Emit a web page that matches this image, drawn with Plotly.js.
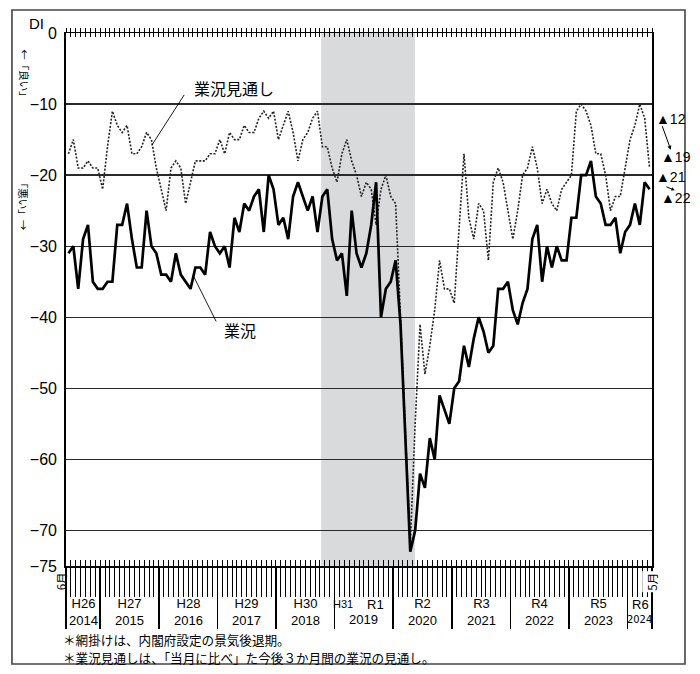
<!DOCTYPE html>
<html><head><meta charset="utf-8">
<script src="https://cdn.plot.ly/plotly-3.0.1.min.js"></script>
<style>html,body{margin:0;padding:0;background:#fff;}#chart{width:700px;height:674px;}</style>
</head><body><div id="chart"></div>
<script>
// 業況 DI (monthly, June 2014 - May 2024)
const gyokyo = [
-31,-30,-36,-29,-27,-35,-36,-36,-35,-35,
-27,-27,-24,-29,-33,-33,-25,-30,-31,-34,
-34,-35,-31,-34,-35,-36,-33,-33,-34,-28,
-30,-31,-30,-33,-26,-28,-24,-25,-23,-22,
-28,-20,-22,-27,-26,-29,-23,-21,-23,-25,
-23,-28,-23,-22,-29,-32,-31,-37,-25,-31,
-33,-31,-27,-21,-40,-36,-35,-32,-41,-57,
-73,-70,-62,-64,-57,-60,-51,-53,-55,-50,
-49,-44,-47,-43,-40,-42,-45,-44,-36,-36,
-35,-39,-41,-38,-36,-29,-27,-35,-30,-33,
-30,-32,-32,-26,-26,-20,-20,-18,-23,-24,
-27,-27,-26,-31,-28,-27,-24,-27,-21,-22
];
// 業況見通し DI
const mitoshi = [
-17,-15,-19,-19,-18,-19,-19,-22,-16,-11,
-13,-14,-13,-17,-17,-16,-14,-15,-19,-22,
-25,-19,-18,-19,-24,-21,-18,-18,-18,-17,
-17,-15,-17,-14,-15,-15,-13,-14,-14,-12,
-11,-12,-11,-15,-13,-11,-14,-18,-15,-14,
-12,-11,-16,-16,-19,-21,-17,-15,-18,-20,
-23,-21,-22,-27,-22,-20,-23,-24,-40,-56,
-72,-55,-41,-48,-44,-39,-32,-36,-36,-38,
-28,-17,-26,-29,-24,-25,-32,-21,-19,-21,
-25,-29,-25,-20,-19,-16,-19,-24,-22,-24,
-25,-22,-21,-20,-11,-10,-11,-13,-17,-17,
-20,-25,-23,-23,-19,-15,-13,-10,-12,-19
];
const monthIdx = gyokyo.map((_, i) => i);           // 0 = 2014年6月
const monthEdges = [...Array(gyokyo.length + 1).keys()].map(i => i - 0.5);
const yearEdges = [-0.5, 6.5, 18.5, 30.5, 42.5, 54.5, 66.5, 78.5, 90.5, 102.5, 114.5, 119.5];
const yTickVals = [0, -10, -20, -30, -40, -50, -60, -70, -75];
const yTickText = ['0', '−10', '−20', '−30', '−40', '−50', '−60', '−70', '−75'];
const yearCenters = [3, 12.5, 24.5, 36.5, 48.5, 72.5, 84.5, 96.5, 108.5];
const yearLabels = ['H26<br>2014', 'H27<br>2015', 'H28<br>2016', 'H29<br>2017', 'H30<br>2018',
                    'R2<br>2020', 'R3<br>2021', 'R4<br>2022', 'R5<br>2023'];
const recession = [51.75, 70.95];   // 景気後退期 (2018年10月〜2020年5月)

const JP = '"Noto Sans CJK JP", sans-serif';
const LAT = '"Liberation Sans", Arial, sans-serif';
const N = gyokyo.length;
const xr = [-0.5, N - 0.5];

const traces = [
  {x: monthIdx, y: mitoshi, mode: 'lines', line: {color: '#222', width: 1.6, dash: '2px,1.6px'}, hoverinfo: 'skip', showlegend: false},
  {x: monthIdx, y: gyokyo, mode: 'lines', line: {color: '#000', width: 2.7}, hoverinfo: 'skip', showlegend: false},
  {x: [], y: [], xaxis: 'x2', yaxis: 'y', showlegend: false},
  {x: [], y: [], xaxis: 'x3', yaxis: 'y', showlegend: false},
  {x: [], y: [], xaxis: 'x4', yaxis: 'y', showlegend: false},
  {x: [], y: [], xaxis: 'x5', yaxis: 'y', showlegend: false}
];

const tickAxis = (side, dir, len, vals, w) => ({
  overlaying: 'x', anchor: 'y', side: side, range: xr, tickmode: 'array', tickvals: vals,
  ticks: dir, ticklen: len, tickwidth: w, tickcolor: '#000', showticklabels: false,
  showgrid: false, zeroline: false, showline: false, fixedrange: true
});

const ann = [];
const txt = (o) => Object.assign({xref: 'paper', yref: 'paper', xanchor: 'center', yanchor: 'middle', showarrow: false}, o);
// DI
ann.push(txt({x: -0.034, y: 1.017, xanchor: 'right', text: 'DI', font: {family: LAT, size: 15, color: '#000'}}));
// vertical labels (rotated)
ann.push(txt({x: -0.071, y: 0.92, text: '←「良い」', textangle: 90, font: {family: JP, size: 10.5, color: '#000'}}));
ann.push(txt({x: -0.071, y: 0.679, text: '「悪い」→', textangle: 90, font: {family: JP, size: 10.5, color: '#000'}}));
// series labels and leaders
ann.push({xref: 'x', yref: 'y', x: 25.2, y: -7.7, xanchor: 'left', yanchor: 'middle',
  text: '業況見通し', showarrow: false, font: {family: JP, size: 16, color: '#000'}});
ann.push({xref: 'x', yref: 'y', x: 17.07, y: -15.8, axref: 'x', ayref: 'y', ax: 23.9, ay: -8.5,
  text: '', showarrow: true, arrowhead: 0, arrowwidth: 0.9, arrowcolor: '#000'});
ann.push({xref: 'x', yref: 'y', x: 31.4, y: -41.8, xanchor: 'left', yanchor: 'middle',
  text: '業況', showarrow: false, font: {family: JP, size: 16, color: '#000'}});
ann.push({xref: 'x', yref: 'y', x: 25.6, y: -34.2, axref: 'x', ayref: 'y', ax: 30.4, ay: -40.8,
  text: '', showarrow: true, arrowhead: 0, arrowwidth: 0.9, arrowcolor: '#000'});
// right-side end values
const tri = v => '▲' + Math.abs(v);
const endLbl = [
  [tri(mitoshi[N - 2]), 1.003, 0.839], [tri(mitoshi[N - 1]), 1.012, 0.767],
  [tri(gyokyo[N - 2]), 1.003, 0.730], [tri(gyokyo[N - 1]), 1.012, 0.690]
];
endLbl.forEach(([t, x, y]) => ann.push(txt({x: x, y: y, xanchor: 'left', text: t, font: {family: LAT, size: 14, color: '#000'}})));
ann.push({xref: 'paper', yref: 'paper', x: 1.032, y: 0.781, ax: -9, ay: -25, text: '', showarrow: true,
  arrowhead: 2, arrowsize: 0.8, arrowwidth: 1, arrowcolor: '#000'});
ann.push({xref: 'paper', yref: 'paper', x: 1.039, y: 0.705, ax: -10, ay: -4, text: '', showarrow: true,
  arrowhead: 2, arrowsize: 0.7, arrowwidth: 1, arrowcolor: '#000'});
// 6月 / 5月
ann.push(txt({x: -0.007, y: -0.029, text: '6月', textangle: -90, font: {family: JP, size: 11.5, color: '#000'}}));
ann.push(txt({x: 0.9995, y: -0.030, text: '5月', textangle: -90, bgcolor: '#fff', font: {family: JP, size: 11.5, color: '#000'}}));
// year labels
yearCenters.forEach((c, k) => ann.push(txt({xref: 'x', x: c, y: -0.086, text: yearLabels[k], font: {family: LAT, size: 13, color: '#000'}})));
ann.push(txt({xref: 'x', x: 56.3, y: -0.072, text: 'H31', font: {family: '"Liberation Sans Narrow", Arial, sans-serif', size: 11, color: '#000'}}));
ann.push(txt({xref: 'x', x: 62.8, y: -0.072, text: 'R1', font: {family: LAT, size: 13, color: '#000'}}));
ann.push(txt({xref: 'x', x: 60.5, y: -0.100, text: '2019', font: {family: LAT, size: 13, color: '#000'}}));
ann.push(txt({xref: 'x', x: 117.1, y: -0.072, text: 'R6', font: {family: LAT, size: 13, color: '#000'}}));
ann.push(txt({xref: 'x', x: 116.9, y: -0.100, text: '2024',
  font: {family: '"Liberation Sans Narrow", "DejaVu Sans Condensed", Arial, sans-serif', size: 11, color: '#000'}}));
// footnotes
ann.push(txt({x: -0.008, y: -0.137, xanchor: 'left', text: '＊網掛けは、内閣府設定の景気後退期。', font: {family: JP, size: 12.6, color: '#000'}}));
ann.push(txt({x: -0.008, y: -0.171, xanchor: 'left', text: '＊業況見通しは、「当月に比べ」た今後３か月間の業況の見通し。', font: {family: JP, size: 12.6, color: '#000'}}));

const layout = {
  width: 700, height: 674,
  margin: {l: 66, r: 48, t: 33, b: 108, pad: 0},
  paper_bgcolor: '#fff', plot_bgcolor: 'rgba(0,0,0,0)',
  font: {family: LAT, color: '#000'},
  showlegend: false,
  xaxis: {range: xr, tickmode: 'array', tickvals: monthEdges, ticks: 'outside', ticklen: 29, tickwidth: 1,
    tickcolor: '#000', showticklabels: false, showgrid: false, zeroline: false,
    showline: true, linecolor: '#000', linewidth: 1.5, mirror: true, fixedrange: true},
  xaxis2: tickAxis('top', 'outside', 4, monthEdges, 1),
  xaxis3: tickAxis('top', 'inside', 4, monthEdges, 1),
  xaxis4: tickAxis('bottom', 'inside', 6, monthEdges, 1),
  xaxis5: tickAxis('bottom', 'outside', 62, yearEdges, 1.5),
  yaxis: {range: [-75, 0], tickmode: 'array', tickvals: yTickVals, ticktext: yTickText, ticks: '',
    ticklabelstandoff: 4, tickfont: {family: LAT, size: 16, color: '#000'},
    showgrid: true, gridcolor: '#2a2a2a', gridwidth: 1.4, zeroline: false,
    showline: true, linecolor: '#000', linewidth: 1.8, mirror: true, fixedrange: true},
  shapes: [
    {type: 'rect', xref: 'x', yref: 'paper', x0: recession[0], x1: recession[1], y0: 0, y1: 1,
      fillcolor: '#d9dadc', line: {width: 0}, layer: 'below'},
    {type: 'rect', xref: 'paper', yref: 'paper', x0: -0.0922, x1: 1.0563, y0: -0.1839, y1: 1.0432,
      line: {color: '#444', width: 1.6}, fillcolor: 'rgba(0,0,0,0)', layer: 'above'}
  ],
  annotations: ann
};
Plotly.newPlot('chart', traces, layout, {staticPlot: true, displayModeBar: false});
</script>
</body></html>
